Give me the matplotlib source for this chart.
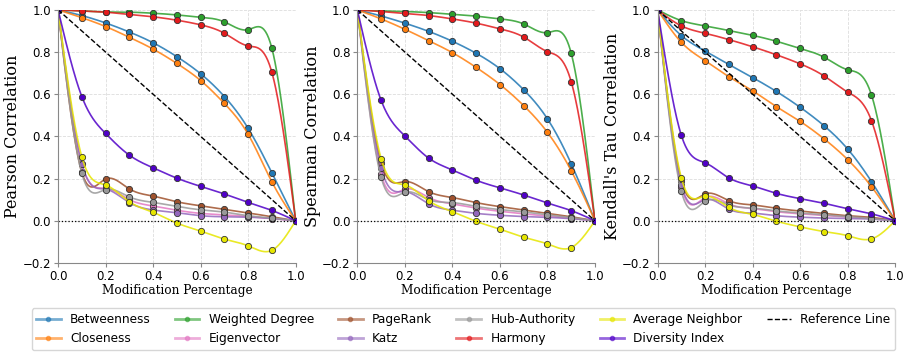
import numpy as np
import matplotlib
matplotlib.use("Agg")
from matplotlib import pyplot as plt

# modification percentage
x = [0.0, 0.1, 0.2, 0.3, 0.4, 0.5, 0.6, 0.7, 0.8, 0.9, 1.0]

names = ["Betweenness", "Closeness", "Weighted Degree", "Eigenvector", "PageRank",
         "Katz", "Hub-Authority", "Harmony", "Average Neighbor", "Diversity Index"]
colors = ["#1f77b4", "#ff7f0e", "#2ca02c", "#e377c2", "#a0522d",
          "#9467bd", "#999999", "#e31a1c", "#e6e600", "#5000c8"]

# Pearson
pearson = {
    "Betweenness":      [1, 0.973, 0.938, 0.895, 0.844, 0.778, 0.697, 0.589, 0.438, 0.227, 0],
    "Closeness":        [1, 0.963, 0.921, 0.870, 0.814, 0.746, 0.665, 0.556, 0.410, 0.184, 0],
    "Weighted Degree":  [1, 0.995, 0.990, 0.989, 0.984, 0.976, 0.965, 0.943, 0.906, 0.817, 0],
    "Eigenvector":      [1, 0.270, 0.155, 0.100, 0.070, 0.050, 0.035, 0.028, 0.020, 0.010, 0],
    "PageRank":         [1, 0.230, 0.198, 0.151, 0.117, 0.090, 0.071, 0.054, 0.037, 0.019, 0],
    "Katz":             [1, 0.270, 0.150, 0.086, 0.051, 0.038, 0.024, 0.019, 0.017, 0.011, 0],
    "Hub-Authority":    [1, 0.225, 0.148, 0.113, 0.087, 0.068, 0.052, 0.041, 0.024, 0.013, 0],
    "Harmony":          [1, 0.995, 0.989, 0.978, 0.967, 0.951, 0.929, 0.889, 0.829, 0.703, 0],
    "Average Neighbor": [1, 0.303, 0.170, 0.090, 0.040, -0.011, -0.049, -0.087, -0.119, -0.140, 0],
    "Diversity Index":  [1, 0.589, 0.414, 0.311, 0.251, 0.202, 0.163, 0.127, 0.087, 0.049, 0],
}

# Spearman
spearman = {
    "Betweenness":      [1, 0.971, 0.937, 0.898, 0.851, 0.794, 0.721, 0.621, 0.483, 0.270, 0],
    "Closeness":        [1, 0.957, 0.908, 0.854, 0.797, 0.727, 0.646, 0.546, 0.419, 0.237, 0],
    "Weighted Degree":  [1, 0.995, 0.992, 0.987, 0.979, 0.970, 0.957, 0.933, 0.892, 0.794, 0],
    "Eigenvector":      [1, 0.220, 0.150, 0.110, 0.080, 0.060, 0.045, 0.033, 0.022, 0.012, 0],
    "PageRank":         [1, 0.275, 0.186, 0.138, 0.110, 0.086, 0.067, 0.051, 0.035, 0.019, 0],
    "Katz":             [1, 0.250, 0.138, 0.080, 0.050, 0.035, 0.026, 0.020, 0.016, 0.010, 0],
    "Hub-Authority":    [1, 0.206, 0.135, 0.100, 0.086, 0.068, 0.053, 0.042, 0.028, 0.015, 0],
    "Harmony":          [1, 0.992, 0.983, 0.973, 0.957, 0.937, 0.910, 0.871, 0.802, 0.659, 0],
    "Average Neighbor": [1, 0.295, 0.170, 0.095, 0.043, -0.003, -0.040, -0.078, -0.110, -0.127, 0],
    "Diversity Index":  [1, 0.571, 0.402, 0.297, 0.241, 0.192, 0.156, 0.122, 0.084, 0.048, 0],
}

# Kendall's Tau
kendall = {
    "Betweenness":      [1, 0.878, 0.805, 0.741, 0.679, 0.613, 0.538, 0.451, 0.340, 0.186, 0],
    "Closeness":        [1, 0.846, 0.759, 0.683, 0.616, 0.541, 0.471, 0.389, 0.290, 0.162, 0],
    "Weighted Degree":  [1, 0.949, 0.924, 0.902, 0.879, 0.851, 0.817, 0.776, 0.716, 0.597, 0],
    "Eigenvector":      [1, 0.160, 0.110, 0.080, 0.058, 0.043, 0.033, 0.025, 0.018, 0.010, 0],
    "PageRank":         [1, 0.190, 0.127, 0.095, 0.075, 0.059, 0.046, 0.035, 0.024, 0.016, 0],
    "Katz":             [1, 0.170, 0.100, 0.055, 0.036, 0.024, 0.017, 0.013, 0.011, 0.008, 0],
    "Hub-Authority":    [1, 0.140, 0.092, 0.075, 0.060, 0.047, 0.037, 0.028, 0.020, 0.010, 0],
    "Harmony":          [1, 0.924, 0.889, 0.859, 0.825, 0.787, 0.744, 0.687, 0.610, 0.475, 0],
    "Average Neighbor": [1, 0.203, 0.116, 0.063, 0.030, -0.002, -0.029, -0.051, -0.071, -0.086, 0],
    "Diversity Index":  [1, 0.405, 0.275, 0.203, 0.165, 0.130, 0.105, 0.083, 0.057, 0.033, 0],
}

panels = [(pearson, "Pearson Correlation"),
          (spearman, "Spearman Correlation"),
          (kendall, "Kendall's Tau Correlation")]


def smooth(xs, ys, n=300):
    # natural cubic spline, just for drawing the line
    xs = np.asarray(xs, float)
    ys = np.asarray(ys, float)
    m = len(xs)
    h = np.diff(xs)
    A = np.zeros((m, m))
    b = np.zeros(m)
    A[0, 0] = A[-1, -1] = 1
    for i in range(1, m - 1):
        A[i, i - 1] = h[i - 1]
        A[i, i] = 2 * (h[i - 1] + h[i])
        A[i, i + 1] = h[i]
        b[i] = 6 * ((ys[i + 1] - ys[i]) / h[i] - (ys[i] - ys[i - 1]) / h[i - 1])
    M = np.linalg.solve(A, b)
    xf = np.linspace(xs[0], xs[-1], n)
    idx = np.clip(np.searchsorted(xs, xf) - 1, 0, m - 2)
    x0, x1 = xs[idx], xs[idx + 1]
    hh = x1 - x0
    t0 = x1 - xf
    t1 = xf - x0
    yf = (M[idx] * t0 ** 3 / (6 * hh) + M[idx + 1] * t1 ** 3 / (6 * hh)
          + (ys[idx] / hh - M[idx] * hh / 6) * t0
          + (ys[idx + 1] / hh - M[idx + 1] * hh / 6) * t1)
    return xf, yf


fig = plt.figure(figsize=(9.07, 3.52), dpi=100)
lefts = [0.064, 0.394, 0.725]
handles = []
for k, (data, ylab) in enumerate(panels):
    ax = fig.add_axes([lefts[k], 0.253, 0.262, 0.719])
    for name, c in zip(names, colors):
        xf, yf = smooth(x, data[name])
        ax.plot(xf, yf, color=c, lw=1.2, alpha=0.85)
        ax.plot(x, data[name], "o", color=c, ms=4.5, mec="#333333", mew=0.6)
        if k == 0:
            h, = plt.plot([], [], color=c, lw=2, alpha=0.6, marker="o", ms=3)
            handles.append(h)
    ref, = ax.plot([0, 1], [1, 0], "k--", lw=1)
    ax.axhline(0, color="k", ls=":", lw=0.9)
    if k == 0:
        handles.append(ref)
    ax.set_xlim(0, 1)
    ax.set_ylim(-0.2, 1.0)
    ax.set_xticks(np.arange(0, 1.01, 0.2))
    ax.set_yticks(np.arange(-0.2, 1.01, 0.2))
    ax.grid(True, ls="--", lw=0.6, color="#dddddd")
    ax.set_axisbelow(True)
    for s in ["top", "right"]:
        ax.spines[s].set_visible(False)
    for s in ["left", "bottom"]:
        ax.spines[s].set_color("#888888")
    ax.tick_params(labelsize=8.5, length=3, color="#888888", pad=2)
    ax.set_xlabel("Modification Percentage", family="DejaVu Serif", fontsize=8.7, labelpad=1)
    ax.set_ylabel(ylab, family="DejaVu Serif", fontsize=11.5, labelpad=1)

fig.legend(handles, names + ["Reference Line"], ncol=6, loc="center",
           bbox_to_anchor=(0.511, 0.065), fontsize=8.7, frameon=True,
           columnspacing=2.0, handlelength=2.0, labelspacing=0.5,
           borderpad=0.4)

plt.savefig("out.png", dpi=100)
